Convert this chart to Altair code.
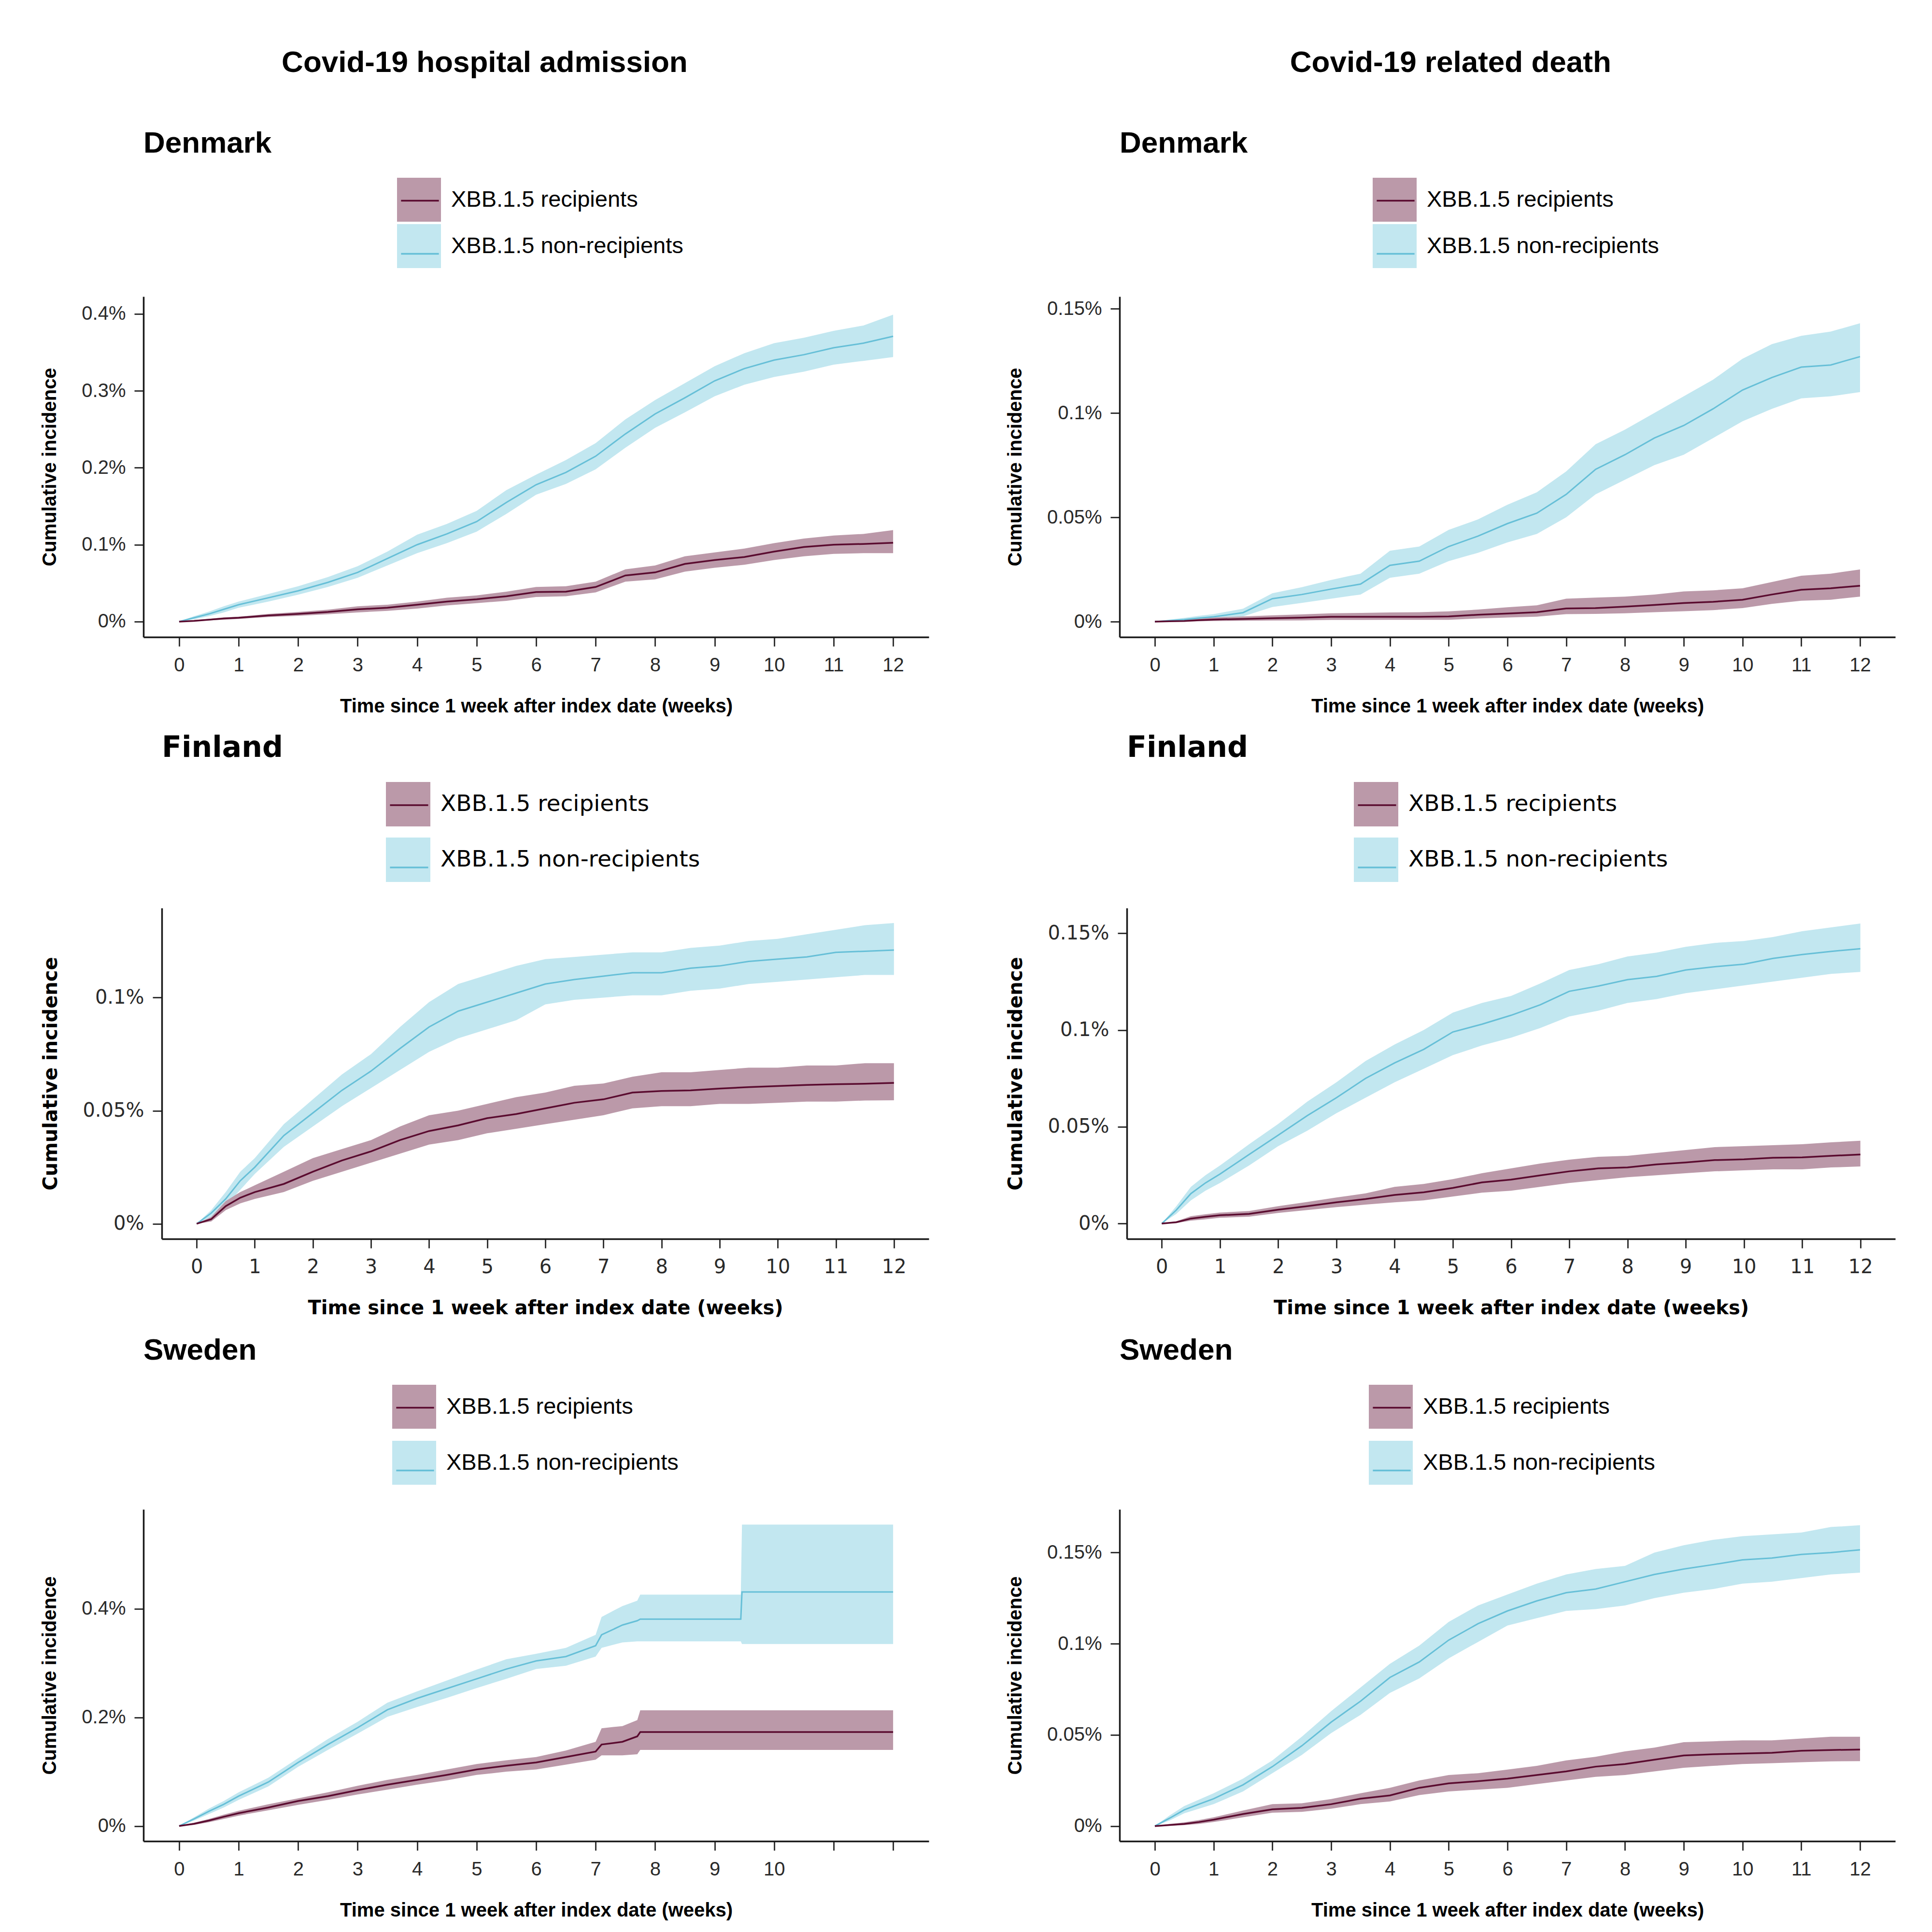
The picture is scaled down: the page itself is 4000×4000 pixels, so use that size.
import altair as alt
import pandas as pd

# ---------------- data ----------------
REC = "XBB.1.5 recipients"
NON = "XBB.1.5 non-recipients"
GROUPS = [REC, NON]

# weeks since 1 week after index date
T = [0, 0.25, 0.5, 0.75, 1, 1.5, 2, 2.5, 3, 3.5, 4, 4.5, 5, 5.5, 6, 6.5, 7, 7.5, 8,
     8.5, 9, 9.5, 10, 10.5, 11, 11.5, 12]
T_SE_HOSP = [0, 0.25, 0.5, 0.75, 1, 1.5, 2, 2.5, 3, 3.5, 4, 4.5, 5, 5.5, 6, 6.5, 7,
             7.1, 7.45, 7.7, 7.75, 9.44, 9.46, 12]

# cumulative incidence in percent: estimate, lower and upper 95% CI
DK_H_NON = [0, .005, .010, .016, .022, .031, .040, .051, .064, .082, .100, .114, .130, .155,
            .178, .194, .215, .244, .270, .291, .313, .329, .340, .347, .356, .362, .371]
DK_H_NON_LO = [0, .003, .007, .012, .018, .026, .035, .045, .057, .073, .089, .102, .117, .140,
               .165, .179, .198, .226, .252, .272, .293, .308, .318, .325, .334, .339, .344]
DK_H_NON_HI = [0, .007, .013, .020, .026, .036, .046, .058, .072, .091, .113, .127, .144, .171,
               .191, .210, .232, .263, .288, .310, .332, .349, .362, .369, .378, .385, .399]
DK_H_REC = [0, .001, .0025, .004, .005, .008, .010, .0125, .016, .018, .022, .026, .029, .033,
            .0385, .039, .045, .060, .064, .075, .080, .084, .091, .097, .100, .101, .1025]
DK_H_REC_LO = [0, .0005, .0015, .0025, .0035, .006, .0075, .0095, .012, .014, .017, .021, .024,
               .027, .032, .033, .038, .052, .055, .065, .070, .074, .080, .085, .088, .089, .089]
DK_H_REC_HI = [0, .002, .0035, .0055, .0065, .010, .0125, .0155, .020, .022, .026, .031, .034,
               .039, .045, .046, .052, .068, .073, .085, .090, .095, .102, .108, .112, .114, .119]

DK_D_NON = [0, .0005, .001, .0017, .0023, .0043, .011, .013, .0156, .018, .027, .029, .036, .041,
            .047, .052, .061, .073, .080, .088, .094, .102, .111, .117, .122, .123, .127]
DK_D_NON_LO = [0, 0, .0003, .0008, .0012, .0025, .007, .009, .011, .013, .021, .023, .029, .033,
               .038, .042, .050, .061, .068, .075, .080, .088, .096, .102, .107, .108, .110]
DK_D_NON_HI = [0, .001, .0018, .0028, .0036, .0062, .0136, .0165, .020, .023, .034, .036, .044,
               .049, .056, .062, .072, .085, .092, .100, .108, .116, .126, .133, .137, .139, .143]
DK_D_REC = [0, .0002, .0003, .0007, .001, .0013, .0016, .0019, .0023, .0023, .0023, .0023, .0025,
            .0033, .0039, .0045, .0063, .0065, .0072, .008, .0089, .0095, .0105, .013, .0153,
            .016, .0172]
DK_D_REC_LO = [0, 0, 0, .0002, .0003, .0004, .0005, .0006, .0008, .0008, .0009, .0009, .0009,
               .0015, .0020, .0024, .0036, .0037, .0040, .0045, .0050, .0055, .0065, .0085,
               .0100, .0105, .0120]
DK_D_REC_HI = [0, .0006, .0010, .0015, .0020, .0025, .0030, .0035, .0040, .0042, .0044, .0045,
               .0049, .0058, .0069, .0078, .011, .0115, .012, .013, .0145, .015, .016, .019,
               .022, .023, .025]

FI_H_NON = [0, .0047, .011, .019, .025, .039, .049, .059, .0675, .0775, .087, .094, .098, .102,
            .106, .108, .1095, .111, .111, .113, .114, .116, .117, .118, .120, .1205, .121]
FI_H_NON_LO = [0, .003, .008, .015, .022, .034, .043, .052, .060, .068, .076, .082, .086, .090,
               .097, .099, .100, .101, .101, .103, .104, .106, .107, .108, .109, .110, .110]
FI_H_NON_HI = [0, .006, .014, .023, .029, .044, .055, .066, .075, .087, .098, .106, .110, .114,
               .117, .118, .119, .120, .120, .122, .123, .125, .126, .128, .130, .132, .133]
FI_H_REC = [0, .002, .0078, .0115, .014, .0176, .023, .028, .032, .037, .041, .0435, .0467,
            .0485, .051, .0535, .055, .058, .0587, .059, .0598, .0604, .0609, .0614, .0617,
            .0619, .0623]
FI_H_REC_LO = [0, .001, .006, .009, .011, .014, .019, .023, .027, .031, .035, .037, .040, .042,
               .044, .046, .048, .051, .052, .052, .053, .053, .0535, .054, .054, .0545, .0546]
FI_H_REC_HI = [0, .003, .010, .014, .017, .023, .029, .033, .037, .043, .048, .050, .053, .056,
               .058, .061, .062, .065, .067, .067, .068, .069, .069, .070, .070, .071, .071]

FI_D_NON = [0, .007, .0155, .021, .0256, .0357, .0457, .0558, .065, .075, .083, .090, .099, .103,
            .1076, .113, .120, .1227, .126, .1277, .131, .1327, .134, .137, .139, .1406, .142]
FI_D_NON_LO = [0, .005, .012, .017, .021, .030, .040, .048, .057, .065, .073, .080, .087, .092,
               .096, .101, .107, .110, .114, .116, .119, .121, .123, .125, .127, .129, .130]
FI_D_NON_HI = [0, .009, .019, .025, .030, .041, .0515, .063, .073, .084, .0925, .100, .109, .114,
               .1176, .124, .131, .134, .138, .140, .143, .145, .146, .148, .151, .153, .155]
FI_D_REC = [0, .0007, .0026, .0035, .0043, .005, .0072, .009, .011, .0127, .0148, .0162, .0184,
            .0213, .0227, .0249, .027, .0285, .029, .0306, .0316, .0328, .0332, .034, .0342,
            .035, .0357]
FI_D_REC_LO = [0, .0003, .0015, .0022, .003, .0036, .0055, .007, .0085, .0098, .011, .012, .014,
               .016, .017, .019, .021, .0225, .024, .025, .026, .027, .0275, .028, .028, .029,
               .0295]
FI_D_REC_HI = [0, .0012, .0038, .0048, .0057, .0065, .009, .0112, .0135, .0156, .019, .0205,
               .023, .026, .0285, .031, .033, .0345, .035, .0365, .038, .0395, .040, .0405,
               .041, .042, .0428]

SE_H_NON = [0, .013, .027, .040, .055, .081, .117, .150, .181, .214, .235, .253, .271, .289,
            .304, .312, .332, .352, .370, .378, .381, .381, .431, .431]
SE_H_NON_LO = [0, .010, .022, .034, .048, .073, .109, .140, .170, .201, .219, .236, .254, .271,
               .289, .295, .312, .328, .338, .340, .340, .340, .335, .335]
SE_H_NON_HI = [0, .016, .032, .046, .062, .089, .125, .160, .192, .227, .248, .268, .288, .307,
               .317, .328, .352, .385, .405, .415, .426, .426, .555, .555]
SE_H_REC = [0, .004, .010, .017, .0236, .034, .046, .055, .066, .076, .085, .094, .104, .111,
            .117, .127, .137, .150, .155, .165, .173, .173, .173, .173]
SE_H_REC_LO = [0, .002, .007, .013, .019, .029, .039, .048, .058, .067, .076, .084, .094, .100,
               .104, .113, .122, .130, .130, .132, .140, .140, .140, .140]
SE_H_REC_HI = [0, .006, .013, .021, .028, .040, .051, .062, .074, .085, .094, .104, .114, .121,
               .127, .139, .155, .180, .184, .195, .213, .213, .213, .213]

SE_D_NON = [0, .0043, .0089, .012, .015, .0226, .0326, .044, .057, .0685, .0815, .090, .102,
            .111, .118, .1235, .128, .130, .134, .138, .141, .1434, .146, .147, .149, .150, .1515]
SE_D_NON_LO = [0, .003, .007, .0095, .012, .019, .029, .039, .051, .061, .073, .081, .092, .101,
               .110, .114, .118, .119, .121, .125, .128, .130, .133, .134, .136, .138, .139]
SE_D_NON_HI = [0, .0058, .011, .0145, .018, .026, .036, .049, .063, .076, .089, .099, .112, .121,
               .127, .133, .138, .141, .1427, .150, .154, .157, .159, .160, .161, .164, .165]
SE_D_REC = [0, .0006, .0012, .0022, .0035, .0066, .0092, .010, .012, .015, .0168, .021, .0234,
            .0246, .026, .028, .030, .0326, .034, .0364, .0387, .0394, .0398, .0402, .0413,
            .0417, .042]
SE_D_REC_LO = [0, .0002, .0005, .0012, .0022, .0048, .0073, .0078, .0095, .012, .0135, .017,
               .019, .020, .021, .023, .025, .027, .028, .030, .032, .033, .034, .0345, .035,
               .0355, .0356]
SE_D_REC_HI = [0, .0012, .002, .0033, .0048, .0085, .012, .0125, .0148, .018, .021, .025, .028,
               .029, .031, .033, .036, .038, .041, .043, .046, .0465, .047, .047, .048, .049,
               .049]

X_TICKS = list(range(13))

# ---------------- styling ----------------
BAND_COLORS = ["#BB99A9", "#C2E7F0"]
LINE_COLORS = ["#5A0B2F", "#66BFD7"]
ARIAL = "Liberation Sans"
DEJAVU = "DejaVu Sans"
X_TITLE = "Time since 1 week after index date (weeks)"
Y_TITLE = "Cumulative incidence"


def frame(t, est, lo, hi, group):
    return pd.DataFrame({"t": t, "est": est, "lo": lo, "hi": hi, "group": group})


def panel(title, t, rec, non, ydom, yticks, w, h, font, title_size, leg_x, leg_y,
          row_pad, sym, inset=0, hide_after=None):
    rec_df = frame(t, *rec, REC)
    non_df = frame(t, *non, NON)
    xscale = alt.Scale(domain=[-0.6, 12.6], range=[inset, w], nice=False, zero=False)
    yscale = alt.Scale(domain=ydom, nice=False, zero=False)
    axis_style = dict(
        labelFont=font, labelFontSize=40, labelColor="#2a2a2a",
        titleFont=font, titleFontSize=40, titleFontWeight="bold", titleColor="black",
        domainColor="#1a1a1a", domainWidth=3.5, tickColor="#333333", tickWidth=3,
        tickSize=19, grid=False, labelFlush=False, labelOverlap=False,
    )
    x_kw = dict(values=X_TICKS, format="d", title=X_TITLE, labelPadding=19,
                titlePadding=45, **axis_style)
    if hide_after is not None:
        x_kw["labelExpr"] = f"datum.value <= {hide_after} ? datum.label : ''"
    xaxis = alt.Axis(**x_kw)
    yaxis = alt.Axis(values=yticks, labelExpr="datum.value + '%'", title=Y_TITLE,
                     labelPadding=18, titlePadding=45, offset=-inset, **axis_style)
    leg_common = dict(
        orient="none", legendX=leg_x + inset, legendY=leg_y, title=None,
        direction="vertical", symbolSize=sym * sym, rowPadding=row_pad, labelFont=font,
        labelFontSize=47, labelColor="black", labelOffset=21, labelLimit=1200, padding=0,
    )
    fill_legend = alt.Legend(symbolType="square", symbolStrokeWidth=0, **leg_common)
    stroke_legend = alt.Legend(symbolType="M-1,-1M-0.86,0H0.86M1,1", symbolStrokeWidth=3.5,
                               labelExpr="''", **leg_common)
    fill_enc = alt.Fill("group:N", scale=alt.Scale(domain=GROUPS, range=BAND_COLORS),
                        legend=fill_legend)
    stroke_enc = alt.Stroke("group:N", scale=alt.Scale(domain=GROUPS, range=LINE_COLORS),
                            legend=stroke_legend)

    bands, lines = [], []
    for df, lw in [(non_df, 3.0), (rec_df, 3.5)]:
        base = alt.Chart(df)
        bands.append(base.mark_area(opacity=1).encode(
            x=alt.X("t:Q", scale=xscale, axis=xaxis),
            y=alt.Y("lo:Q", scale=yscale, axis=yaxis),
            y2="hi:Q",
            fill=fill_enc,
        ))
        lines.append(base.mark_line(strokeWidth=lw).encode(
            x=alt.X("t:Q", scale=xscale, axis=xaxis),
            y=alt.Y("est:Q", scale=yscale, axis=yaxis),
            stroke=stroke_enc,
        ))
    layered = alt.layer(alt.layer(*bands), alt.layer(*lines)).resolve_legend(
        fill="independent", stroke="independent")
    return layered.properties(
        width=w, height=h,
        title=alt.TitleParams(title, anchor="start", frame="group", font=font,
                              fontSize=title_size, fontWeight="bold", color="black",
                              offset=39, dx=inset),
    )


dk_h = panel("Denmark", T, (DK_H_REC, DK_H_REC_LO, DK_H_REC_HI),
             (DK_H_NON, DK_H_NON_LO, DK_H_NON_HI), [-0.0201, 0.4226],
             [0, 0.1, 0.2, 0.3, 0.4], 1626, 705, ARIAL, 62, 525, -246, 5, 91)
fi_h = panel("Finland", T, (FI_H_REC, FI_H_REC_LO, FI_H_REC_HI),
             (FI_H_NON, FI_H_NON_LO, FI_H_NON_HI), [-0.0067, 0.1396],
             [0, 0.05, 0.1], 1626, 685, DEJAVU, 60, 464, -261, 23, 92, inset=38)
se_h = panel("Sweden", T_SE_HOSP, (SE_H_REC, SE_H_REC_LO, SE_H_REC_HI),
             (SE_H_NON, SE_H_NON_LO, SE_H_NON_HI), [-0.028, 0.583],
             [0, 0.2, 0.4], 1626, 687, ARIAL, 62, 515, -258, 25, 91, hide_after=10)

dk_d = panel("Denmark", T, (DK_D_REC, DK_D_REC_LO, DK_D_REC_HI),
             (DK_D_NON, DK_D_NON_LO, DK_D_NON_HI), [-0.0074, 0.1558],
             [0, 0.05, 0.1, 0.15], 1606, 705, ARIAL, 62, 524, -246, 5, 91)
fi_d = panel("Finland", T, (FI_D_REC, FI_D_REC_LO, FI_D_REC_HI),
             (FI_D_NON, FI_D_NON_LO, FI_D_NON_HI), [-0.0079, 0.163],
             [0, 0.05, 0.1, 0.15], 1606, 685, DEJAVU, 60, 470, -261, 23, 92, inset=15)
se_d = panel("Sweden", T, (SE_D_REC, SE_D_REC_LO, SE_D_REC_HI),
             (SE_D_NON, SE_D_NON_LO, SE_D_NON_HI), [-0.0083, 0.1737],
             [0, 0.05, 0.1, 0.15], 1606, 687, ARIAL, 62, 516, -258, 25, 91)


def column(title, *panels):
    return alt.vconcat(*panels, spacing=37).properties(
        title=alt.TitleParams(title, anchor="middle", font=ARIAL, fontSize=62,
                              fontWeight="bold", color="black", offset=104)
    )


chart = alt.hconcat(
    column("Covid-19 hospital admission", dk_h, fi_h, se_h),
    column("Covid-19 related death", dk_d, fi_d, se_d),
    spacing=159,
).properties(
    padding={"left": 75, "top": 91, "right": 10, "bottom": 10},
    background="white",
).configure_view(stroke=None)

chart.save("out.html", embed_options={"renderer": "svg", "actions": False})
